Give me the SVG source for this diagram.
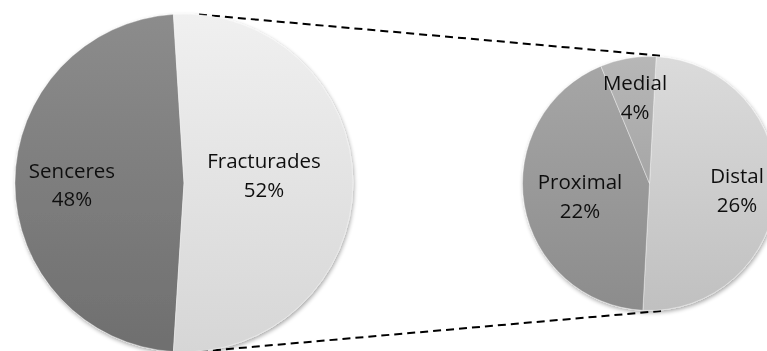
<svg xmlns="http://www.w3.org/2000/svg" width="767" height="351" viewBox="0 0 767 351">
  <style>
    .lbl { font-family: "Open Sans", "Liberation Sans", sans-serif; font-size: 20.5px; fill: #111; text-anchor: middle; }
    .slice { stroke: #ffffff; stroke-opacity: 0.5; stroke-width: 0.75; }
    .conn { fill: none; stroke: #000; stroke-width: 2; stroke-dasharray: 8 5; }
  </style>
  <defs>
    <linearGradient id="gSen" x1="0" y1="0" x2="0" y2="1">
      <stop offset="0" stop-color="#8c8c8c"/>
      <stop offset="1" stop-color="#6f6f6f"/>
    </linearGradient>
    <linearGradient id="gFra" x1="0" y1="0" x2="0" y2="1">
      <stop offset="0" stop-color="#f0f0f0"/>
      <stop offset="1" stop-color="#d6d6d6"/>
    </linearGradient>
    <linearGradient id="gPro" x1="0" y1="0" x2="0" y2="1">
      <stop offset="0" stop-color="#a6a6a6"/>
      <stop offset="1" stop-color="#8c8c8c"/>
    </linearGradient>
    <linearGradient id="gMed" x1="0" y1="0" x2="0" y2="1">
      <stop offset="0" stop-color="#b7b7b7"/>
      <stop offset="1" stop-color="#a6a6a6"/>
    </linearGradient>
    <linearGradient id="gDis" x1="0" y1="0" x2="0" y2="1">
      <stop offset="0" stop-color="#dbdbdb"/>
      <stop offset="1" stop-color="#c0c0c0"/>
    </linearGradient>
    <filter id="shadow" x="-10%" y="-10%" width="120%" height="120%">
      <feGaussianBlur in="SourceAlpha" stdDeviation="2"/>
      <feOffset dx="1" dy="2" result="b"/>
      <feComponentTransfer><feFuncA type="linear" slope="0.35"/></feComponentTransfer>
      <feMerge><feMergeNode/><feMergeNode in="SourceGraphic"/></feMerge>
    </filter>
  </defs>
  <rect width="767" height="351" fill="#ffffff"/>

  <g id="connectors">
    <line class="conn" x1="199" y1="14.5" x2="660" y2="55.7"/>
    <line class="conn" x1="200" y1="351.5" x2="661" y2="311"/>
  </g>

  <g id="pie-main" filter="url(#shadow)">
    <g id="node-senceres">
      <path class="slice" fill="url(#gSen)" d="M184,183 L173.39,351.67 A169,169 0 0 1 173.39,14.33 Z"/>
      <text class="lbl" x="72" y="178">Senceres</text>
      <text class="lbl" x="72" y="206">48%</text>
    </g>
    <g id="node-fracturades">
      <path class="slice" fill="url(#gFra)" d="M184,183 L173.39,14.33 A169,169 0 1 1 173.39,351.67 Z"/>
      <text class="lbl" x="264" y="168">Fracturades</text>
      <text class="lbl" x="264" y="197">52%</text>
    </g>
  </g>

  <g id="pie-detail" filter="url(#shadow)">
    <g id="node-distal">
      <path class="slice" fill="url(#gDis)" d="M649.5,183.5 L656.15,56.67 A127,127 0 0 1 642.85,310.33 Z"/>
      <text class="lbl" x="737" y="183">Distal</text>
      <text class="lbl" x="737" y="212">26%</text>
    </g>
    <g id="node-proximal">
      <path class="slice" fill="url(#gPro)" d="M649.5,183.5 L642.85,310.33 A127,127 0 0 1 600.9,66.17 Z"/>
      <text class="lbl" x="580" y="189">Proximal</text>
      <text class="lbl" x="580" y="218">22%</text>
    </g>
    <g id="node-medial">
      <path class="slice" fill="url(#gMed)" d="M649.5,183.5 L600.9,66.17 A127,127 0 0 1 656.15,56.67 Z"/>
      <text class="lbl" x="635" y="90">Medial</text>
      <text class="lbl" x="635" y="119">4%</text>
    </g>
  </g>
</svg>
